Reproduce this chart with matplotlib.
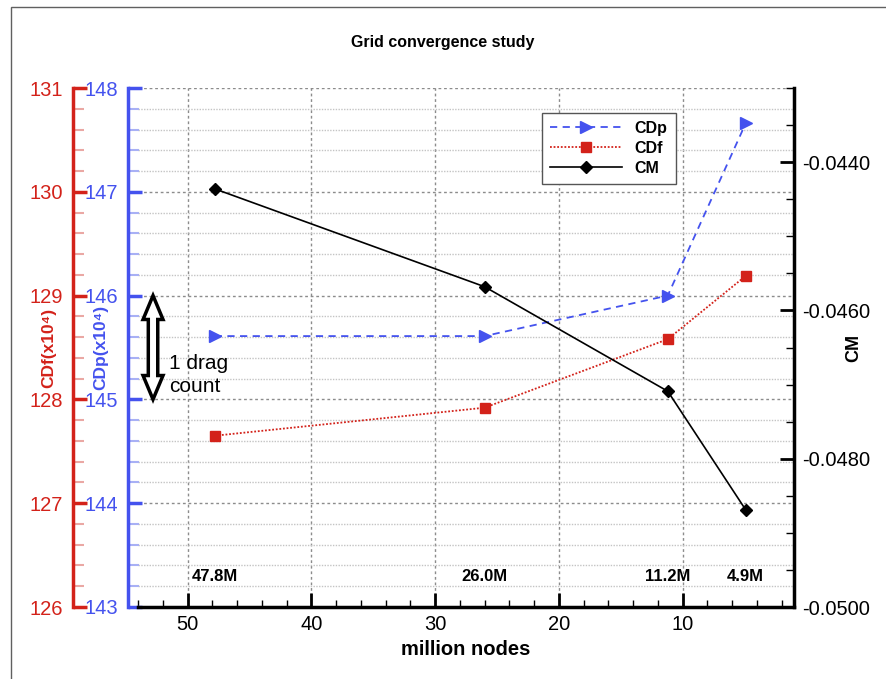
import matplotlib
matplotlib.use("Agg")
import matplotlib.pyplot as plt
import matplotlib.transforms as mtransforms
from matplotlib.patches import Polygon, Rectangle
from matplotlib.ticker import MultipleLocator, FormatStrFormatter

plt.rcParams['font.family'] = ['Liberation Sans', 'DejaVu Sans']

# grid sizes (million nodes) and force coefficients
nodes = [47.8, 26.0, 11.2, 4.9]
node_labels = ['47.8M', '26.0M', '11.2M', '4.9M']
cdp = [145.61, 145.61, 146.00, 147.66]     # x1e4
cdf = [127.65, 127.92, 128.58, 129.19]     # x1e4
cm = [-0.04436, -0.04568, -0.04709, -0.04869]

blue = '#4452ee'
red = '#d3221a'

fig = plt.figure(figsize=(8.86, 6.79), dpi=100)
ax = fig.add_axes([138 / 886, 1 - 607 / 679, 656 / 886, 519 / 679])
ax_f = ax.twinx()
ax_cm = ax.twinx()

# x axis
ax.set_xlim(54, 1)
ax.xaxis.set_major_locator(MultipleLocator(10))
ax.xaxis.set_minor_locator(MultipleLocator(2))
ax.tick_params(axis='x', which='major', direction='in', length=10, width=2, labelsize=14.5, pad=6)
ax.tick_params(axis='x', which='minor', direction='in', length=5, width=1)
ax.set_xlabel('million nodes', fontsize=14.5, fontweight='bold', labelpad=4)

# CDp axis (blue, left)
ax.set_ylim(143, 148)
ax.yaxis.set_major_locator(MultipleLocator(1))
ax.yaxis.set_minor_locator(MultipleLocator(0.2))
ax.spines['left'].set_position(('outward', 7.2))
ax.spines['left'].set_color(blue)
ax.spines['left'].set_linewidth(2.5)
ax.spines['bottom'].set_linewidth(2.5)
ax.spines['top'].set_visible(False)
ax.spines['right'].set_visible(False)
ax.tick_params(axis='y', which='major', direction='in', length=10, width=2.5,
               color=blue, labelcolor=blue, labelsize=14.5, pad=7)
ax.tick_params(axis='y', which='minor', direction='in', length=8, width=1.5, color='#a8b0f5')
ax.set_ylabel('CDp(x10⁴)', color=blue, fontsize=12.5, fontweight='bold')
ax.yaxis.set_label_coords(-0.046, 0.5)

ax.grid(True, which='major', axis='both', color='#8c8c8c', linestyle=(0, (2, 2)), linewidth=1)
ax.grid(True, which='minor', axis='y', color='#c4c4c4', linestyle=(0, (1, 1)), linewidth=1)

# CDf axis (red, far left)
ax_f.set_ylim(126, 131)
ax_f.yaxis.tick_left()
ax_f.yaxis.set_label_position('left')
ax_f.yaxis.set_major_locator(MultipleLocator(1))
ax_f.yaxis.set_minor_locator(MultipleLocator(0.2))
for side in ['right', 'top', 'bottom']:
    ax_f.spines[side].set_visible(False)
ax_f.spines['left'].set_position(('outward', 46.8))
ax_f.spines['left'].set_color(red)
ax_f.spines['left'].set_linewidth(2.5)
ax_f.tick_params(axis='y', which='major', direction='in', length=10, width=2.5,
                 color=red, labelcolor=red, labelsize=14.5, pad=7)
ax_f.tick_params(axis='y', which='minor', direction='in', length=8, width=1.5, color='#eaa8a4')
ax_f.set_ylabel('CDf(x10⁴)', color=red, fontsize=12.5, fontweight='bold')
ax_f.yaxis.set_label_coords(-0.124, 0.5)

# CM axis (black, right)
ax_cm.set_ylim(-0.0500, -0.0430)
ax_cm.yaxis.set_major_locator(MultipleLocator(0.002))
ax_cm.yaxis.set_minor_locator(MultipleLocator(0.0005))
ax_cm.yaxis.set_major_formatter(FormatStrFormatter('%.4f'))
for side in ['left', 'top', 'bottom']:
    ax_cm.spines[side].set_visible(False)
ax_cm.spines['right'].set_linewidth(2.5)
ax_cm.tick_params(axis='y', which='major', direction='in', length=10, width=2, labelsize=14.5, pad=6)
ax_cm.tick_params(axis='y', which='minor', direction='in', length=6, width=1)
ax_cm.set_ylabel('CM', fontsize=13, fontweight='bold')
ax_cm.yaxis.set_label_coords(1.078, 0.5)

# series
l_p, = ax.plot(nodes, cdp, color=blue, linestyle=(0, (4, 3)), linewidth=1.3,
               marker='>', markersize=9, label='CDp', clip_on=False)
l_f, = ax_f.plot(nodes, cdf, color=red, linestyle=(0, (1, 1)), linewidth=1.3,
                 marker='s', markersize=6.5, label='CDf', clip_on=False)
l_m, = ax_cm.plot(nodes, cm, color='black', linestyle='-', linewidth=1.2,
                  marker='D', markersize=6.5, label='CM', clip_on=False)

# grid size labels along the bottom
for xv, txt in zip(nodes, node_labels):
    ax.text(xv, 143.29, txt, ha='center', va='center', fontsize=12, fontweight='bold')

# one drag count marker
trans = mtransforms.blended_transform_factory(ax.transAxes, ax.transData)
xc, hw, sw, hl = 0.0229, 0.0152, 0.0072, 0.23
top, bot = 146.0, 145.0
pts = [(xc, top), (xc + hw, top - hl), (xc + sw, top - hl), (xc + sw, bot + hl),
       (xc + hw, bot + hl), (xc, bot), (xc - hw, bot + hl), (xc - sw, bot + hl),
       (xc - sw, top - hl), (xc - hw, top - hl)]
ax.add_patch(Polygon(pts, closed=True, transform=trans, facecolor='white',
                     edgecolor='black', linewidth=2.5, joinstyle='miter', zorder=5))
ax.text(0.047, 145.235, '1 drag\ncount', transform=trans, ha='left', va='center',
        fontsize=15, linespacing=1.25)

# legend
leg = ax_cm.legend([l_p, l_f, l_m], ['CDp', 'CDf', 'CM'], loc='upper left',
                   bbox_to_anchor=(542 / 886, 1 - 113 / 679), bbox_transform=fig.transFigure,
                   borderaxespad=0, fancybox=False, framealpha=1, edgecolor='#555555',
                   prop={'weight': 'bold', 'size': 11.5}, handlelength=4.5,
                   handletextpad=0.8, labelspacing=0.3, borderpad=0.5)
leg.get_frame().set_linewidth(1)

fig.text(0.5, 1 - 42 / 679, 'Grid convergence study', ha='center', va='center',
         fontsize=11.5, fontweight='bold')

# page frame
fig.add_artist(Rectangle((11 / 886, -0.1), 1.2, 1 - 7 / 679 + 0.1, transform=fig.transFigure,
                         fill=False, edgecolor='#606060', linewidth=1))

fig.savefig('out.png', dpi=100)
